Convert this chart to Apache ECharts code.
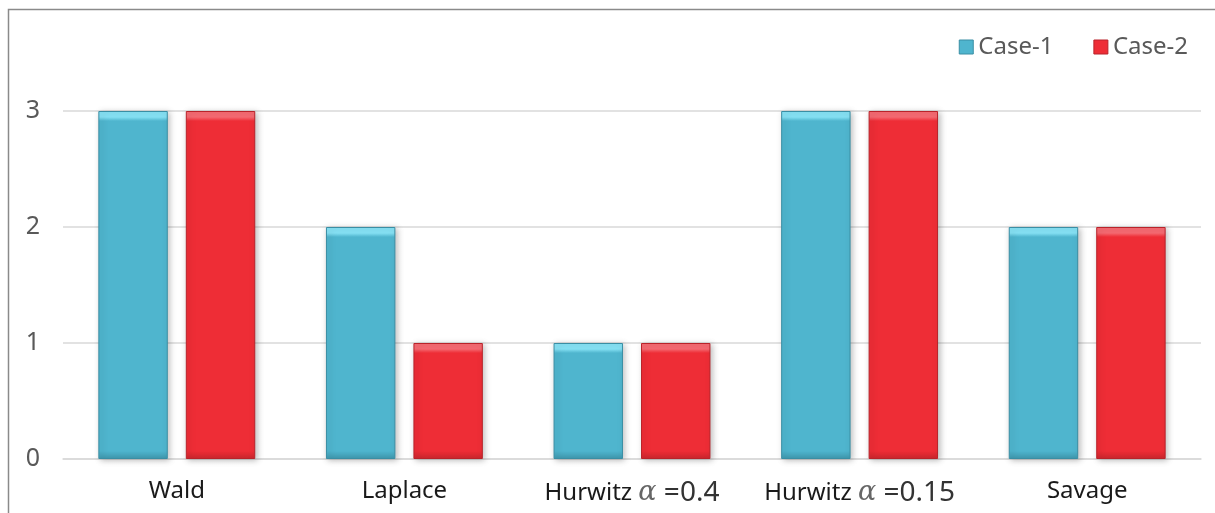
<!DOCTYPE html>
<html><head><meta charset="utf-8">
<script src="https://cdn.jsdelivr.net/npm/echarts@6/dist/echarts.min.js"></script>
<style>html,body{margin:0;padding:0;background:#fff}#c{width:1215px;height:513px}</style>
</head><body><div id="c"></div>
<script>
const categories = ['Wald', 'Laplace', 'Hurwitz α =0.4', 'Hurwitz α =0.15', 'Savage'];
const case1 = [3, 2, 1, 3, 2];
const case2 = [3, 1, 1, 3, 2];
const seriesNames = ['Case-1', 'Case-2'];
const yTicks = [0, 1, 2, 3];

const chart = echarts.init(document.getElementById('c'), null, {renderer: 'canvas'});
const PX_PER_UNIT = 116;
function grad(light, base, dark, v) {
  const h = v * PX_PER_UNIT;
  const f = 10 / h;
  const fb = 8 / h;
  return new echarts.graphic.LinearGradient(0, 0, 0, 1, [
    {offset: 0, color: light},
    {offset: f * 0.6, color: light},
    {offset: f, color: base},
    {offset: 1 - fb, color: base},
    {offset: 1, color: dark}
  ]);
}
function mk(vals, light, base, dark, edge) {
  return vals.map(v => ({value: v, itemStyle: {color: grad(light, base, dark, v), borderColor: edge, borderWidth: 1}}));
}
const cyan = ['#86e2f5', '#4fb5ce', '#3f98ae', '#3a8ea4'];
const red = ['#f66a72', '#ee2d36', '#cc262d', '#b9232a'];

chart.setOption({
  animation: false,
  backgroundColor: '#fff',
  graphic: [{type: 'rect', shape: {x: 8.5, y: 9.5, width: 1220, height: 520}, style: {fill: 'none', stroke: '#8a8a8a', lineWidth: 1.5}, silent: true}],
  legend: {
    right: 22, top: 30, itemWidth: 14, itemHeight: 14, itemGap: 40, icon: 'rect',
    textStyle: {fontFamily: 'Noto Sans', fontSize: 24, color: '#595959'},
    data: [
      {name: seriesNames[0], itemStyle: {color: cyan[1], borderColor: cyan[3], borderWidth: 1}},
      {name: seriesNames[1], itemStyle: {color: red[1], borderColor: red[3], borderWidth: 1}}
    ]
  },
  grid: {left: 63, right: 14, top: 111, bottom: 54, containLabel: false},
  xAxis: {
    type: 'category', data: categories,
    axisLine: {show: true, lineStyle: {color: '#d9d9d9', width: 1.5}},
    axisTick: {show: false},
    axisLabel: {
      interval: 0, margin: 20, fontFamily: 'Noto Sans', fontSize: 24, color: '#1a1a1a',
      formatter: s => {
        const i = s.indexOf('α');
        if (i < 0) return '{n|' + s + '}';
        return '{n|' + s.slice(0, i) + '}{a|α}{m|' + s.slice(i + 1) + '}';
      },
      rich: {
        n: {fontFamily: 'Noto Sans', fontSize: 24, color: '#1a1a1a'},
        a: {fontFamily: 'DejaVu Serif', fontStyle: 'italic', fontSize: 27, color: '#666'},
        m: {fontFamily: 'Noto Sans', fontSize: 28, color: '#333'}
      }
    }
  },
  yAxis: {
    type: 'value', min: yTicks[0], max: yTicks[yTicks.length - 1], interval: 1,
    axisLine: {show: false}, axisTick: {show: false},
    axisLabel: {margin: 23, fontFamily: 'Noto Sans', fontSize: 25, color: '#595959'},
    splitLine: {lineStyle: {color: '#d9d9d9', width: 1.5}}
  },
  series: [
    {name: seriesNames[0], type: 'bar', barWidth: '30.5%', barGap: '26%', data: mk(case1, ...cyan),
      itemStyle: {color: cyan[1], shadowColor: 'rgba(0,0,0,0.25)', shadowBlur: 6, shadowOffsetX: 2, shadowOffsetY: 1}},
    {name: seriesNames[1], type: 'bar', barWidth: '30.5%', barGap: '26%', data: mk(case2, ...red),
      itemStyle: {color: red[1], shadowColor: 'rgba(0,0,0,0.25)', shadowBlur: 6, shadowOffsetX: 2, shadowOffsetY: 1}}
  ]
});
</script></body></html>
